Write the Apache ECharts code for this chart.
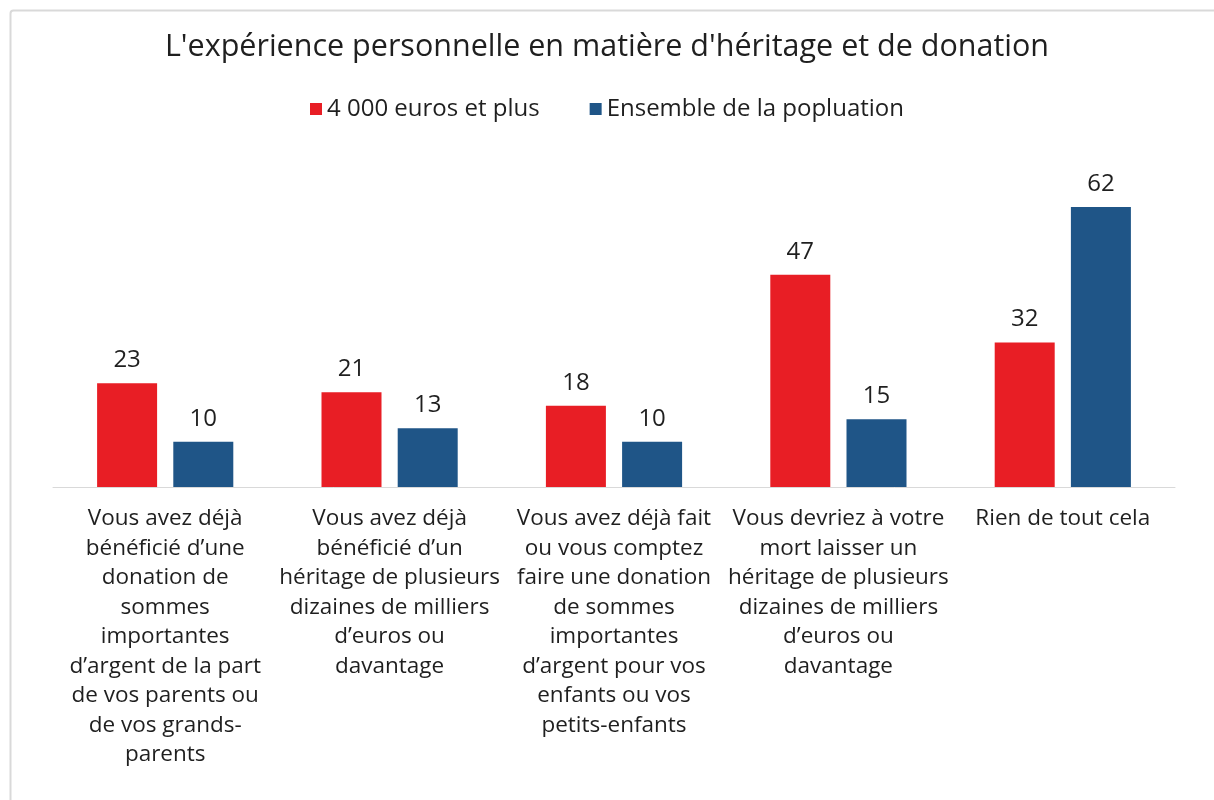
<!DOCTYPE html>
<html>
<head>
<meta charset="utf-8">
<script src="https://cdn.jsdelivr.net/npm/echarts@6/dist/echarts.min.js"></script>
<style>
html,body{margin:0;padding:0;background:#fff;}
#chart{width:1214px;height:800px;}
</style>
</head>
<body>
<div id="chart"></div>
<script>
const titleText = "L'expérience personnelle en matière d'héritage et de donation";
const categories = [
  "Vous avez déjà\nbénéficié d’une\ndonation de\nsommes\nimportantes\nd’argent de la part\nde vos parents ou\nde vos grands-\nparents",
  "Vous avez déjà\nbénéficié d’un\nhéritage de plusieurs\ndizaines de milliers\nd’euros ou\ndavantage",
  "Vous avez déjà fait\nou vous comptez\nfaire une donation\nde sommes\nimportantes\nd’argent pour vos\nenfants ou vos\npetits-enfants",
  "Vous devriez à votre\nmort laisser un\nhéritage de plusieurs\ndizaines de milliers\nd’euros ou\ndavantage",
  "Rien de tout cela"
];
const seriesNames = ["4 000 euros et plus", "Ensemble de la popluation"];
const valuesHigh = [23, 21, 18, 47, 32];
const valuesAll = [10, 13, 10, 15, 62];

const FONT = "'Open Sans', sans-serif";
const chart = echarts.init(document.getElementById('chart'), null, {renderer: 'canvas'});
chart.setOption({
  backgroundColor: '#ffffff',
  animation: false,
  graphic: [{
    type: 'rect',
    shape: {x: 10.5, y: 10.5, width: 1220, height: 800, r: 3},
    style: {fill: 'none', stroke: '#d9d9d9', lineWidth: 2},
    silent: true, z: -1
  }],
  title: {
    text: titleText,
    left: 'center',
    top: 27,
    textStyle: {fontFamily: FONT, fontSize: 30.5, fontWeight: 'normal', color: '#1f1f1f'}
  },
  legend: {
    top: 92,
    left: 'center',
    itemWidth: 12,
    itemHeight: 12,
    itemGap: 50,
    icon: 'rect',
    textStyle: {fontFamily: FONT, fontSize: 24, color: '#1f1f1f'},
    data: seriesNames
  },
  grid: {left: 53, right: 39, top: 171, bottom: 313, containLabel: false},
  xAxis: {
    type: 'category',
    data: categories,
    axisLine: {lineStyle: {color: '#d9d9d9', width: 1}},
    axisTick: {show: false},
    axisLabel: {
      interval: 0,
      margin: 17,
      fontFamily: FONT,
      fontSize: 22.5,
      lineHeight: 29.5,
      color: '#1f1f1f',
      align: 'center'
    }
  },
  yAxis: {
    type: 'value',
    min: 0,
    max: 70,
    show: false,
    splitLine: {show: false}
  },
  series: [
    {
      name: seriesNames[0],
      type: 'bar',
      data: valuesHigh,
      barWidth: 60,
      barGap: '27%',
      itemStyle: {color: '#E81E25'},
      label: {show: true, position: 'top', distance: 11, fontFamily: FONT, fontSize: 24, color: '#1f1f1f'}
    },
    {
      name: seriesNames[1],
      type: 'bar',
      data: valuesAll,
      barWidth: 60,
      barGap: '27%',
      itemStyle: {color: '#1F5587'},
      label: {show: true, position: 'top', distance: 11, fontFamily: FONT, fontSize: 24, color: '#1f1f1f'}
    }
  ]
});
</script>
</body>
</html>
